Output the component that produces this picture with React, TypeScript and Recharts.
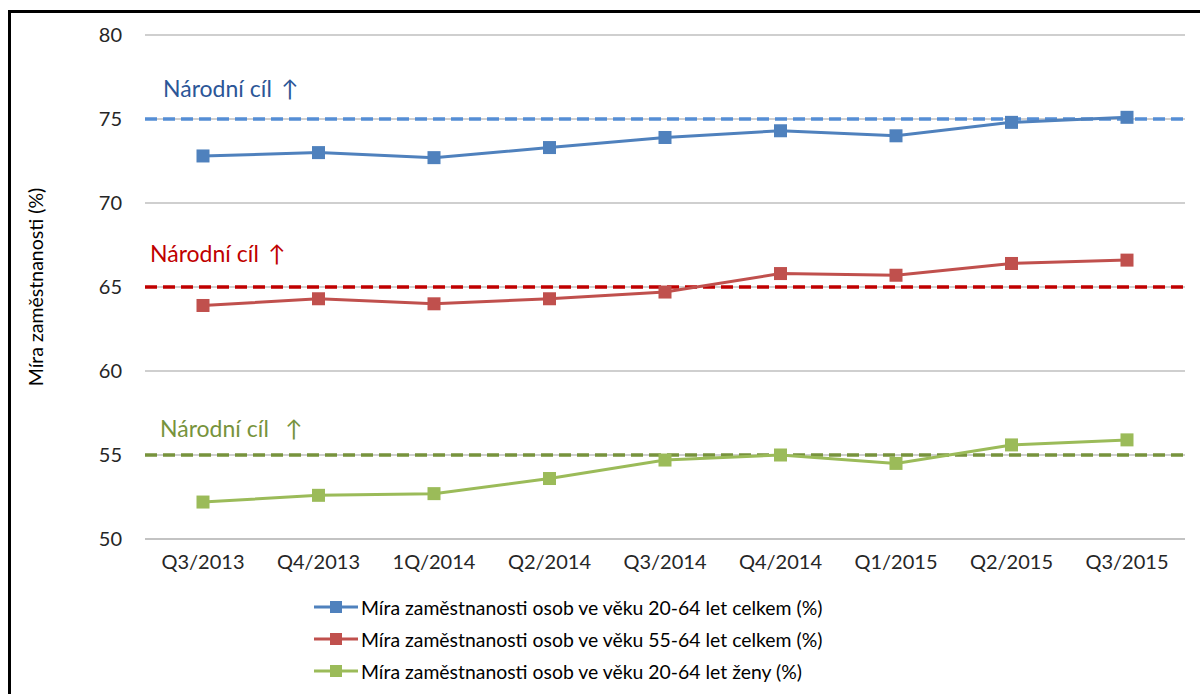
import { LineChart, Line, XAxis, YAxis, CartesianGrid, ReferenceLine } from 'recharts'

const quarters = ['Q3/2013', 'Q4/2013', '1Q/2014', 'Q2/2014', 'Q3/2014', 'Q4/2014', 'Q1/2015', 'Q2/2015', 'Q3/2015']
const total2064 = [72.8, 73.0, 72.7, 73.3, 73.9, 74.3, 74.0, 74.8, 75.1]
const total5564 = [63.9, 64.3, 64.0, 64.3, 64.7, 65.8, 65.7, 66.4, 66.6]
const women2064 = [52.2, 52.6, 52.7, 53.6, 54.7, 55.0, 54.5, 55.6, 55.9]
const yTicks = [50, 55, 60, 65, 70, 75, 80]

const targets = [
  { value: 75, line: '#558ED5', text: '#2C5697', label: 'Národní cíl', arrowGap: 9, dx: 18, dy: 31 },
  { value: 65, line: '#C00000', text: '#C00000', label: 'Národní cíl', arrowGap: 9, dx: 5, dy: 34 },
  { value: 55, line: '#77933C', text: '#77933C', label: 'Národní cíl', arrowGap: 16, dx: 15, dy: 27 },
]

const series = [
  { key: 'a', color: '#4F81BD', name: 'Míra zaměstnanosti osob ve věku 20-64 let celkem (%)' },
  { key: 'b', color: '#C0504D', name: 'Míra zaměstnanosti osob ve věku 55-64 let celkem (%)' },
  { key: 'c', color: '#9BBB59', name: 'Míra zaměstnanosti osob ve věku 20-64 let ženy (%)' },
]

const data = quarters.map((q, i) => ({ q, a: total2064[i], b: total5564[i], c: women2064[i] }))

const FONT = 'Lato, "Open Sans", sans-serif'

function squareDot(color: string) {
  return (p: any) => (
    <rect key={`d-${p.index}`} x={p.cx - 6.5} y={p.cy - 6.5} width={13} height={13} fill={color} />
  )
}

export default function App() {
  return (
    <div style={{ position: 'absolute', left: 0, top: 0, width: 1200, height: 694, background: '#fff', fontFamily: FONT }}>
      <div style={{ position: 'absolute', left: 8, top: 10, width: 1192, height: 684, borderTop: '3px solid #000', borderLeft: '3px solid #000', boxSizing: 'border-box' }} />
      <div style={{ position: 'absolute', left: 0, top: 0 }}>
        <LineChart width={1200} height={694} data={data} margin={{ top: 35, right: 15, bottom: 125, left: 0 }}>
          <CartesianGrid vertical={false} stroke="#BFBFBF" strokeWidth={1.5} />
          <XAxis
            dataKey="q"
            padding={{ left: 58, right: 58 }}
            axisLine={{ stroke: '#BFBFBF', strokeWidth: 1.5 }}
            tickLine={false}
            tickMargin={10}
            tick={{ fontFamily: FONT, fontSize: 20, fill: '#262626' }}
          />
          <YAxis
            width={145}
            domain={[50, 80]}
            ticks={yTicks}
            axisLine={false}
            tickLine={false}
            tickMargin={17}
            tick={{ fontFamily: FONT, fontSize: 20, fill: '#262626' }}
            label={{
              value: 'Míra zaměstnanosti (%)',
              angle: -90,
              position: 'insideLeft',
              offset: 36,
              style: { textAnchor: 'middle', fontFamily: FONT, fontSize: 19.5, fill: '#000' },
            }}
          />
          {targets.map((t) => (
            <ReferenceLine
              key={t.value}
              y={t.value}
              stroke={t.line}
              strokeWidth={3.5}
              strokeDasharray="12 6"
              label={(props: any) => (
                <text
                  x={props.viewBox.x + t.dx}
                  y={props.viewBox.y - t.dy}
                  dominantBaseline="central"
                  fill={t.text}
                  fontFamily={FONT}
                  fontSize={23}
                >
                  {t.label}
                  <tspan dx={t.arrowGap}>↑</tspan>
                </text>
              )}
            />
          ))}
          {series.map((s) => (
            <Line
              key={s.key}
              dataKey={s.key}
              stroke={s.color}
              strokeWidth={3}
              dot={squareDot(s.color)}
              activeDot={false}
              isAnimationActive={false}
            />
          ))}
        </LineChart>
      </div>
      {/* legend */}
      <div style={{ position: 'absolute', left: 313, top: 591 }}>
        {series.map((s) => (
          <div key={s.key} style={{ display: 'flex', alignItems: 'center', height: 32 }}>
            <svg width={46} height={14} style={{ marginRight: 2 }}>
              <line x1={1} y1={7} x2={45} y2={7} stroke={s.color} strokeWidth={3} />
              <rect x={17} y={1} width={12} height={12} fill={s.color} />
            </svg>
            <span style={{ fontSize: 19.4, color: '#000' }}>{s.name}</span>
          </div>
        ))}
      </div>
    </div>
  )
}
